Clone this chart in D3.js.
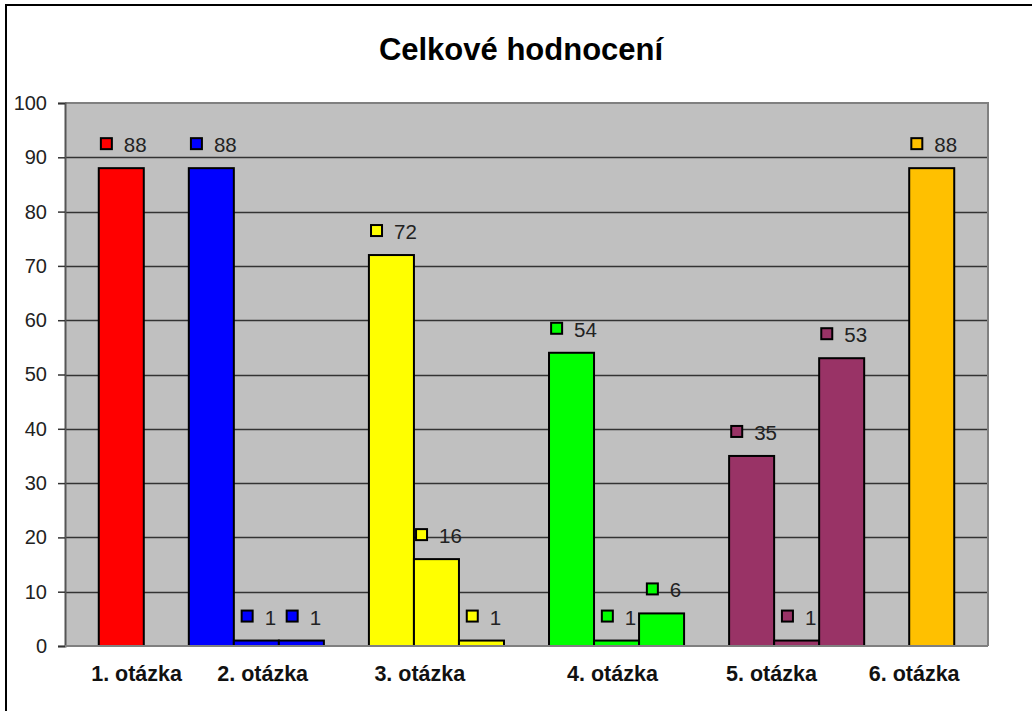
<!DOCTYPE html>
<html>
<head>
<meta charset="utf-8">
<script src="https://cdn.jsdelivr.net/npm/d3@7"></script>
<style>
  body { margin: 0; background: #fff; }
  svg { display: block; font-family: "Liberation Sans", Arial, sans-serif; }
</style>
</head>
<body>
<div id="chart"></div>
<script>
// chart data
const title = "Celkové hodnocení";
const categories = ["1. otázka", "2. otázka", "3. otázka", "4. otázka", "5. otázka", "6. otázka"];
const q1 = [88];
const q2 = [88, 1, 1];
const q3 = [72, 16, 1];
const q4 = [54, 1, 6];
const q5 = [35, 1, 53];
const q6 = [88];
const colors = ["#ff0000", "#0000ff", "#ffff00", "#00ff00", "#993366", "#ffc000"];
const yTicks = [0, 10, 20, 30, 40, 50, 60, 70, 80, 90, 100];
// where each category label sits, in bar-slot units
const labelSlots = [0.84, 3.64, 7.13, 11.41, 14.94, 18.11];

const groups = [q1, q2, q3, q4, q5, q6];

// flatten into bars with a slot index, one empty slot between groups
const bars = [];
let slot = 0;
groups.forEach((vals, gi) => {
    vals.forEach(v => {
        bars.push({ slot: slot, value: v, color: colors[gi] });
        slot++;
    });
    slot++;
});
const nSlots = slot - 1;

const W = 1032, H = 711;
const plot = { left: 65, right: 988, top: 103, bottom: 646 };

const svg = d3.select("#chart").append("svg")
    .attr("width", W)
    .attr("height", H);

// outer chart border
svg.append("rect")
    .attr("x", 6).attr("y", 5)
    .attr("width", W + 20).attr("height", H + 20)
    .attr("fill", "#fff")
    .attr("stroke", "#000")
    .attr("stroke-width", 2);

const x = d3.scaleBand()
    .domain(d3.range(nSlots))
    .range([plot.left, plot.right])
    .paddingInner(0)
    .paddingOuter(0.75);

const xs = d3.scaleLinear()
    .domain([0, nSlots])
    .range([x(0), x(nSlots - 1) + x.bandwidth()]);

const y = d3.scaleLinear()
    .domain([0, 100])
    .range([plot.bottom, plot.top]);

// plot area
svg.append("rect")
    .attr("x", plot.left).attr("y", plot.top)
    .attr("width", plot.right - plot.left)
    .attr("height", plot.bottom - plot.top)
    .attr("fill", "#c0c0c0");

// gridlines
svg.append("g")
    .selectAll("line")
    .data(yTicks.filter(d => d > 0 && d < 100))
    .enter()
    .append("line")
    .attr("x1", plot.left).attr("x2", plot.right)
    .attr("y1", d => Math.round(y(d)) + 0.5)
    .attr("y2", d => Math.round(y(d)) + 0.5)
    .attr("stroke", "#333")
    .attr("stroke-width", 1.5);

// plot border (top, right)
svg.append("path")
    .attr("d", `M${plot.left},${plot.top}H${plot.right}V${plot.bottom}`)
    .attr("fill", "none")
    .attr("stroke", "#808080")
    .attr("stroke-width", 2);

// y axis
const yAxis = d3.axisLeft(y)
    .tickValues(yTicks)
    .tickSize(7)
    .tickPadding(11);

const gy = svg.append("g")
    .attr("transform", `translate(${plot.left},0)`)
    .call(yAxis);
gy.select(".domain").attr("stroke", "#555").attr("stroke-width", 2);
gy.selectAll(".tick line").attr("stroke", "#333").attr("stroke-width", 1.5);
gy.selectAll(".tick text")
    .attr("fill", "#222")
    .style("font-size", "20px")
    .style("font-family", "'Liberation Sans', Arial, sans-serif");

// bars
svg.append("g")
    .selectAll("rect")
    .data(bars)
    .enter()
    .append("rect")
    .attr("x", d => x(d.slot))
    .attr("y", d => y(d.value))
    .attr("width", x.bandwidth())
    .attr("height", d => y(0) - y(d.value))
    .attr("fill", d => d.color)
    .attr("stroke", "#000")
    .attr("stroke-width", 2);

// x axis line
svg.append("line")
    .attr("x1", plot.left).attr("x2", plot.right)
    .attr("y1", plot.bottom).attr("y2", plot.bottom)
    .attr("stroke", "#808080")
    .attr("stroke-width", 2);

// data labels: legend key + value
const lab = svg.append("g")
    .selectAll("g")
    .data(bars)
    .enter()
    .append("g");

lab.append("text")
    .attr("class", "val")
    .attr("y", d => y(d.value) - 16)
    .attr("fill", "#222")
    .style("font-size", "20.5px")
    .text(d => d.value);

lab.each(function(d) {
    const g = d3.select(this);
    const t = g.select("text");
    const tw = t.node().getComputedTextLength();
    const total = 12 + 11 + tw;
    const cx = x(d.slot) + x.bandwidth() / 2 + 2.5;
    const left = cx - total / 2;
    g.append("rect")
        .attr("x", left)
        .attr("y", y(d.value) - 30)
        .attr("width", 11)
        .attr("height", 11)
        .attr("fill", d.color)
        .attr("stroke", "#000")
        .attr("stroke-width", 2);
    t.attr("x", left + 23);
});

// category labels
svg.append("g")
    .selectAll("text")
    .data(categories)
    .enter()
    .append("text")
    .attr("x", (d, i) => xs(labelSlots[i]))
    .attr("y", 681)
    .attr("text-anchor", "middle")
    .attr("fill", "#111")
    .style("font-size", "21.5px")
    .style("font-weight", "bold")
    .text(d => d);

// title
svg.append("text")
    .attr("x", 521)
    .attr("y", 60)
    .attr("text-anchor", "middle")
    .attr("fill", "#000")
    .style("font-size", "31px")
    .style("font-weight", "bold")
    .text(title);
</script>
</body>
</html>
